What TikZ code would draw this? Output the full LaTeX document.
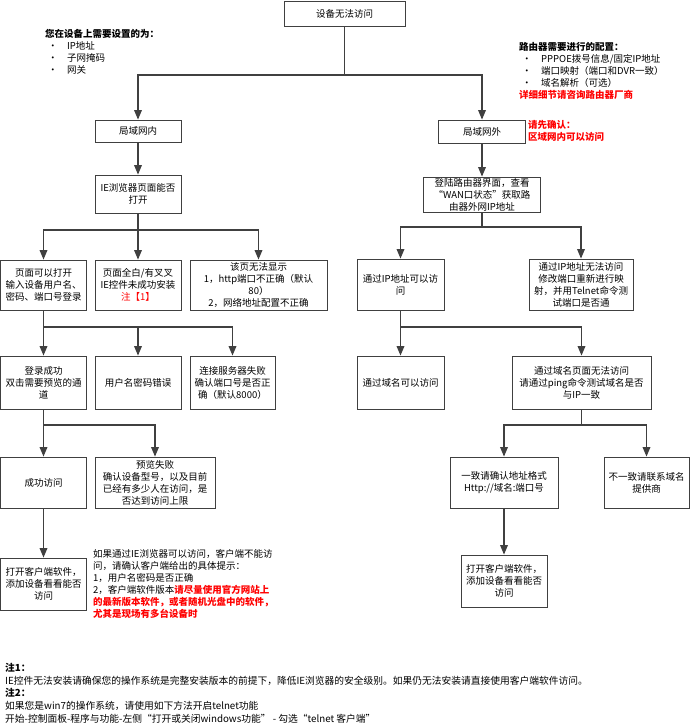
\documentclass[tikz,border=0pt]{standalone}
\usepackage{fontspec}
\setmainfont{Noto Sans CJK SC}
\usetikzlibrary{arrows}

\tikzset{
  box/.style={draw=black!75, line width=1pt, fill=white, align=center, inner sep=1pt,
    font=\fontsize{9.5}{12}\selectfont},
  line/.style={draw=black!75, line width=1.2pt},
  flow/.style={line, ->, >=triangle 45},
  note/.style={align=left, anchor=north west, inner sep=0pt, font=\fontsize{9.5}{11.8}\selectfont},
}
\newcommand{\bul}[1]{\hspace*{3pt}\makebox[19pt][l]{•}#1}

\begin{document}
\begin{tikzpicture}[x=1pt, y=-1pt]
\useasboundingbox (0,0) rectangle (690,726);

% start
\node[box, minimum width=121pt, minimum height=25pt] (start) at (344.5,13.5) {设备无法访问};

% notes at the top
\node[note] (devset) at (45,29.5) {\textbf{您在设备上需要设置的为：}\\
  \bul{IP地址}\\ \bul{子网掩码}\\ \bul{网关}};
\node[note] (rtset) at (519,42.5) {\textbf{路由器需要进行的配置：}\\
  \bul{PPPOE拨号信息/固定IP地址}\\ \bul{端口映射（端口和DVR一致）}\\ \bul{域名解析（可选）}\\
  \textcolor{red}{\bfseries 详细细节请咨询路由器厂商}};
\node[note, text=red, font=\fontsize{9.5}{12}\selectfont\bfseries] (check) at (528,120.5) {请先确认：\\区域网内可以访问};

% LAN side
\node[box, minimum width=86pt, minimum height=22pt] (lin) at (138,131) {局域网内};
\node[box, minimum width=86pt, minimum height=38pt] (ie) at (138,194) {IE浏览器页面能否\\打开};
\node[box, minimum width=86pt, minimum height=50pt] (pgok) at (43.5,285) {页面可以打开\\输入设备用户名、\\密码、端口号登录};
\node[box, minimum width=86pt, minimum height=50pt] (pgwhite) at (138,285) {页面全白/有叉叉\\IE控件未成功安装\\\textcolor{red}{注【1】}};
\node[box, minimum width=137pt, minimum height=50pt] (pgfail) at (258.5,285) {该页无法显示\\1，http端口不正确（默认\\80）\\2，网络地址配置不正确};
\node[box, minimum width=86pt, minimum height=53pt] (loginok) at (43.5,382.5) {登录成功\\双击需要预览的通\\道};
\node[box, minimum width=86pt, minimum height=53pt] (pwerr) at (138,382.5) {用户名密码错误};
\node[box, minimum width=85pt, minimum height=53pt] (srvfail) at (232.5,382.5) {连接服务器失败\\确认端口号是否正\\确（默认8000）};
\node[box, minimum width=86pt, minimum height=51pt] (access) at (43.5,482.5) {成功访问};
\node[box, minimum width=120pt, minimum height=51pt] (prevfail) at (155,482.5) {预览失败\\确认设备型号，以及目前\\已经有多少人在访问，是\\否达到访问上限};
\node[box, minimum width=86pt, minimum height=52pt] (client) at (43.5,584) {打开客户端软件，\\添加设备看看能否\\访问};
\node[note, font=\fontsize{9.5}{12}\selectfont] (hint) at (93,549) {如果通过IE浏览器可以访问，客户端不能访\\
  问，请确认客户端给出的具体提示：\\1，用户名密码是否正确\\
  2，客户端软件版本\textcolor{red}{\bfseries 请尽量使用官方网站上}\\
  \textcolor{red}{\bfseries 的最新版本软件，或者随机光盘中的软件，}\\
  \textcolor{red}{\bfseries 尤其是现场有多台设备时}};

% WAN side
\node[box, minimum width=87pt, minimum height=23pt] (lout) at (482,131.5) {局域网外};
\node[box, minimum width=117pt, minimum height=35pt] (router) at (482,194.5) {登陆路由器界面，查看\\“WAN口状态”获取路\\由器外网IP地址};
\node[box, minimum width=87pt, minimum height=51pt] (ipok) at (400.5,284.5) {通过IP地址可以访\\问};
\node[box, minimum width=104pt, minimum height=51pt] (ipfail) at (581,284.5) {通过IP地址无法访问\\修改端口重新进行映\\射，并用Telnet命令测\\试端口是否通};
\node[box, minimum width=87pt, minimum height=53pt] (dnok) at (400.5,382.5) {通过域名可以访问};
\node[box, minimum width=139pt, minimum height=53pt] (dnfail) at (581.5,382.5) {通过域名页面无法访问\\请通过ping命令测试域名是否\\与IP一致};
\node[box, minimum width=108pt, minimum height=51pt] (same) at (504,482.5) {一致请确认地址格式\\Http://域名:端口号};
\node[box, minimum width=85pt, minimum height=51pt] (diff) at (646.5,482.5) {不一致请联系域名\\提供商};
\node[box, minimum width=86pt, minimum height=52pt] (client2) at (504,581) {打开客户端软件，\\添加设备看看能否\\访问};

% connectors
\coordinate (j1) at (344.5,75);
\draw[line] (start) -- (j1);
\draw[flow] (j1) -| (lin);
\draw[flow] (j1) -| (lout);
\draw[flow] (lin) -- (ie);
\coordinate (j2) at (138,230);
\draw[line] (ie) -- (j2);
\foreach \n in {pgok,pgwhite,pgfail}
  \draw[flow] (j2) -| (\n);
\coordinate (j3) at (43.5,327);
\draw[line] (pgok) -- (j3);
\foreach \n in {loginok,pwerr,srvfail}
  \draw[flow] (j3) -| (\n);
\coordinate (j4) at (43.5,425);
\draw[line] (loginok) -- (j4);
\foreach \n in {access,prevfail}
  \draw[flow] (j4) -| (\n);
\draw[flow] (access) -- (client);

\draw[flow] (lout) -- (router);
\coordinate (j5) at (482,227);
\draw[line] (router) -- (j5);
\foreach \n in {ipok,ipfail}
  \draw[flow] (j5) -| (\n);
\coordinate (j6) at (400.5,327);
\draw[line] (ipok) -- (j6);
\foreach \n in {dnok,dnfail}
  \draw[flow] (j6) -| (\n);
\coordinate (j7) at (581.5,425);
\draw[line] (dnfail) -- (j7);
\foreach \n in {same,diff}
  \draw[flow] (j7) -| (\n);
\draw[flow] (same) -- (client2);

% footnotes
\node[note, font=\fontsize{9.75}{12.7}\selectfont] (foot) at (5,663) {\textbf{注1：}\\
  IE控件无法安装请确保您的操作系统是完整安装版本的前提下，降低IE浏览器的安全级别。如果仍无法安装请直接使用客户端软件访问。\\
  \textbf{注2：}\\
  如果您是win7的操作系统，请使用如下方法开启telnet功能\\
  开始-控制面板-程序与功能-左侧“打开或关闭windows功能” - 勾选“telnet 客户端”};
\end{tikzpicture}
\end{document}
